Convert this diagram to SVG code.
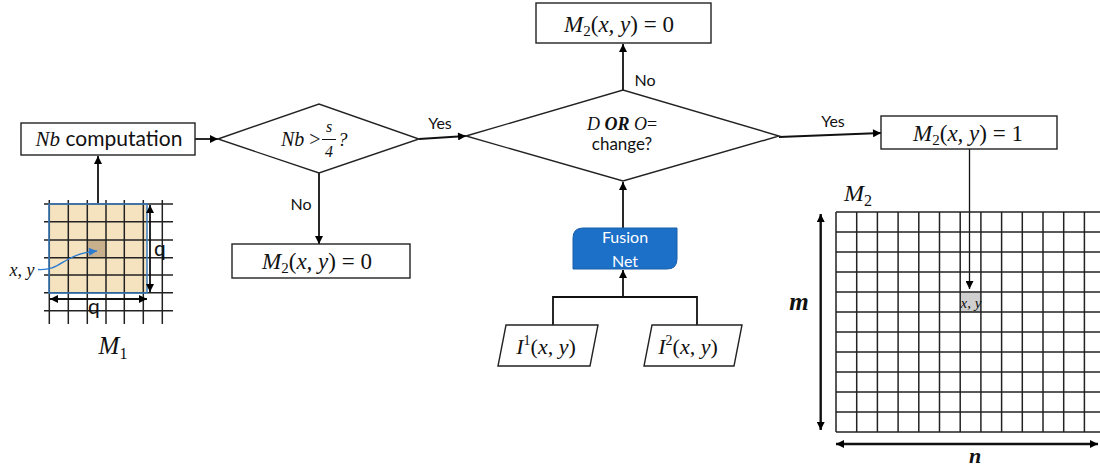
<svg xmlns="http://www.w3.org/2000/svg" width="1100" height="468" viewBox="0 0 1100 468">
<defs>
<marker id="ah" viewBox="0 0 10 10" refX="10" refY="5" markerWidth="9" markerHeight="8" markerUnits="userSpaceOnUse" orient="auto-start-reverse"><path d="M0,0 L10,5 L0,10 z" fill="#000"/></marker>
<marker id="ahb" viewBox="0 0 10 10" refX="10" refY="5" markerWidth="9" markerHeight="8" markerUnits="userSpaceOnUse" orient="auto"><path d="M0,0 L10,5 L0,10 z" fill="#2E7BCF"/></marker>
<style>
.box{fill:#fff;stroke:#222;stroke-width:1.4}
.ln{fill:none;stroke:#111;stroke-width:1.8}
.thin{fill:none;stroke:#111;stroke-width:1.3}
.grid{stroke:#222;stroke-width:1.5;fill:none}
.m{font-family:"Liberation Serif",serif;font-style:italic;fill:#111}
.u{font-style:normal}
.s{font-family:"Lato","Open Sans",sans-serif;fill:#111}
</style>
</defs>

<g id="connectors">
<line class="ln" x1="98" y1="203" x2="98" y2="156" marker-end="url(#ah)"/>
<line class="ln" x1="195" y1="139" x2="218" y2="139" marker-end="url(#ah)"/>
<line class="ln" x1="419" y1="139" x2="466" y2="136" marker-end="url(#ah)"/>
<text class="s" x="440" y="129" font-size="16" text-anchor="middle">Yes</text>
<line class="ln" x1="319" y1="173" x2="319" y2="244" marker-end="url(#ah)"/>
<text class="s" x="301" y="210" font-size="16" text-anchor="middle">No</text>
<line class="ln" x1="623" y1="90" x2="623" y2="44" marker-end="url(#ah)"/>
<text class="s" x="645" y="86" font-size="16" text-anchor="middle">No</text>
<line class="ln" x1="779" y1="137" x2="881" y2="133" marker-end="url(#ah)"/>
<text class="s" x="833" y="127" font-size="16" text-anchor="middle">Yes</text>
<line class="ln" x1="623" y1="228" x2="623" y2="182" marker-end="url(#ah)"/>
<line class="ln" x1="623" y1="297" x2="623" y2="270" marker-end="url(#ah)"/>
<polyline class="ln" points="553,325 553,297 697,297 697,325"/>
<line class="thin" x1="969.5" y1="149" x2="969.5" y2="289" marker-end="url(#ah)"/>
</g>

<g id="nb-computation">
<rect class="box" x="21" y="123" width="174" height="32"/>
<text x="109" y="146" font-size="21" text-anchor="middle"><tspan class="m">Nb</tspan><tspan class="s"> computation</tspan></text>
</g>

<g id="decision-nb">
<polygon class="box" points="218,139 319,104 419,139 319,173"/>
<text class="m" x="281" y="146" font-size="20">Nb <tspan class="u">&gt;</tspan></text>
<text class="m" x="329" y="132" font-size="16" text-anchor="middle">s</text>
<line x1="322" y1="139.5" x2="336" y2="139.5" stroke="#111" stroke-width="1"/>
<text class="m" x="329" y="157" font-size="16" text-anchor="middle" font-style="normal">4</text>
<text class="m" x="338" y="146" font-size="19" font-style="normal">?</text>
</g>

<g id="m2-zero-lower">
<rect class="box" x="232" y="244" width="178" height="34"/>
<text class="m" x="317" y="269" font-size="23" text-anchor="middle">M<tspan class="u" font-size="15" dy="4">2</tspan><tspan class="u" dy="-4">(</tspan>x, y<tspan class="u">) = 0</tspan></text>
</g>

<g id="decision-change">
<polygon class="box" points="466,136 623,90 779,136 623,181"/>
<text class="m" x="622" y="130" font-size="18" text-anchor="middle">D <tspan font-weight="bold">OR</tspan> O<tspan class="u">=</tspan></text>
<text class="s" x="622" y="150" font-size="17" text-anchor="middle">change?</text>
</g>

<g id="m2-zero-top">
<rect class="box" x="536" y="3" width="175" height="40"/>
<text class="m" x="619" y="32" font-size="23" text-anchor="middle">M<tspan class="u" font-size="15" dy="4">2</tspan><tspan class="u" dy="-4">(</tspan>x, y<tspan class="u">) = 0</tspan></text>
</g>

<g id="m2-one">
<rect class="box" x="881" y="116" width="176" height="33"/>
<text class="m" x="968" y="141" font-size="23" text-anchor="middle">M<tspan class="u" font-size="15" dy="4">2</tspan><tspan class="u" dy="-4">(</tspan>x, y<tspan class="u">) = 1</tspan></text>
</g>

<g id="fusion-net">
<path d="M573,238 Q573,228 583,228 L677,228 L677,259 Q677,269 667,269 L573,269 Z" fill="#1C70C8" stroke="#1A5FA8" stroke-width="1"/>
<text class="s" x="625" y="243" font-size="16" text-anchor="middle" style="fill:#fff">Fusion</text>
<text class="s" x="625" y="267" font-size="16" text-anchor="middle" style="fill:#fff">Net</text>
</g>

<g id="input-i1">
<polygon class="box" points="506,325 598,325 590,366 498,366"/>
<text class="m" x="546" y="354" font-size="22" text-anchor="middle">I<tspan class="u" font-size="14" dy="-9">1</tspan><tspan class="u" dy="9">(</tspan>x, y<tspan class="u">)</tspan></text>
</g>

<g id="input-i2">
<polygon class="box" points="652,325 742,325 734,366 644,366"/>
<text class="m" x="688" y="354" font-size="22" text-anchor="middle">I<tspan class="u" font-size="14" dy="-9">2</tspan><tspan class="u" dy="9">(</tspan>x, y<tspan class="u">)</tspan></text>
</g>

<g id="m1-grid">
<rect x="49" y="204" width="98" height="89" fill="#F5E3C0"/>
<rect x="87.3" y="240" width="18.7" height="17.7" fill="#C8B08C"/>
<g class="grid">
<line x1="49.3" y1="200" x2="49.3" y2="324"/>
<line x1="68.3" y1="200" x2="68.3" y2="324"/>
<line x1="87.3" y1="200" x2="87.3" y2="324"/>
<line x1="106" y1="200" x2="106" y2="324"/>
<line x1="124.3" y1="200" x2="124.3" y2="324"/>
<line x1="143.3" y1="200" x2="143.3" y2="324"/>
<line x1="162.3" y1="200" x2="162.3" y2="324"/>
<line x1="44" y1="204" x2="173" y2="204"/>
<line x1="44" y1="221.7" x2="173" y2="221.7"/>
<line x1="44" y1="240" x2="173" y2="240"/>
<line x1="44" y1="257.7" x2="173" y2="257.7"/>
<line x1="44" y1="275" x2="173" y2="275"/>
<line x1="44" y1="292.7" x2="173" y2="292.7"/>
<line x1="44" y1="310.7" x2="173" y2="310.7"/>
</g>
<rect x="49" y="204" width="98" height="89" fill="none" stroke="#3B7DBF" stroke-width="1.5"/>
<line class="ln" x1="150" y1="205" x2="150" y2="292" marker-start="url(#ah)" marker-end="url(#ah)"/>
<line class="ln" x1="50" y1="299" x2="147" y2="299" marker-start="url(#ah)" marker-end="url(#ah)"/>
<text class="s" x="160" y="256" font-size="21" text-anchor="middle">q</text>
<text class="s" x="94" y="314" font-size="21" text-anchor="middle">q</text>
<text class="m" x="22" y="276" font-size="18" text-anchor="middle">x, y</text>
<path d="M38,269.5 C62,271 62,254 97,251" fill="none" stroke="#2E7BCF" stroke-width="1.3" marker-end="url(#ahb)"/>
<text class="m" x="113" y="354" font-size="25" text-anchor="middle">M<tspan class="u" font-size="16" dy="5">1</tspan></text>
</g>

<g id="m2-grid">
<rect x="960.5" y="292.5" width="20.7" height="20" fill="#CFCFCF"/>
<g class="grid">
<line x1="836" y1="212" x2="836" y2="432"/>
<line x1="856.7" y1="212" x2="856.7" y2="432"/>
<line x1="877.4" y1="212" x2="877.4" y2="432"/>
<line x1="898.1" y1="212" x2="898.1" y2="432"/>
<line x1="918.8" y1="212" x2="918.8" y2="432"/>
<line x1="939.5" y1="212" x2="939.5" y2="432"/>
<line x1="960.2" y1="212" x2="960.2" y2="432"/>
<line x1="980.9" y1="212" x2="980.9" y2="432"/>
<line x1="1001.6" y1="212" x2="1001.6" y2="432"/>
<line x1="1022.3" y1="212" x2="1022.3" y2="432"/>
<line x1="1043" y1="212" x2="1043" y2="432"/>
<line x1="1063.7" y1="212" x2="1063.7" y2="432"/>
<line x1="1084.4" y1="212" x2="1084.4" y2="432"/>
<line x1="836" y1="212" x2="1100" y2="212"/>
<line x1="836" y1="232" x2="1100" y2="232"/>
<line x1="836" y1="252" x2="1100" y2="252"/>
<line x1="836" y1="272" x2="1100" y2="272"/>
<line x1="836" y1="292" x2="1100" y2="292"/>
<line x1="836" y1="312" x2="1100" y2="312"/>
<line x1="836" y1="332" x2="1100" y2="332"/>
<line x1="836" y1="352" x2="1100" y2="352"/>
<line x1="836" y1="372" x2="1100" y2="372"/>
<line x1="836" y1="392" x2="1100" y2="392"/>
<line x1="836" y1="412" x2="1100" y2="412"/>
<line x1="836" y1="432" x2="1100" y2="432"/>
</g>
<text class="m" x="971" y="308" font-size="15" text-anchor="middle">x, y</text>
<line x1="820.7" y1="214" x2="820.7" y2="430" stroke="#111" stroke-width="2.4" marker-start="url(#ah)" marker-end="url(#ah)"/>
<line x1="836" y1="444" x2="1098" y2="444" stroke="#111" stroke-width="2.4" marker-start="url(#ah)" marker-end="url(#ah)"/>
<text class="m" x="799" y="310" font-size="25" font-weight="bold" text-anchor="middle">m</text>
<text class="m" x="975" y="463" font-size="22" font-weight="bold" text-anchor="middle">n</text>
<text class="m" x="858" y="201" font-size="24" text-anchor="middle">M<tspan class="u" font-size="16" dy="5">2</tspan></text>
</g>
</svg>
